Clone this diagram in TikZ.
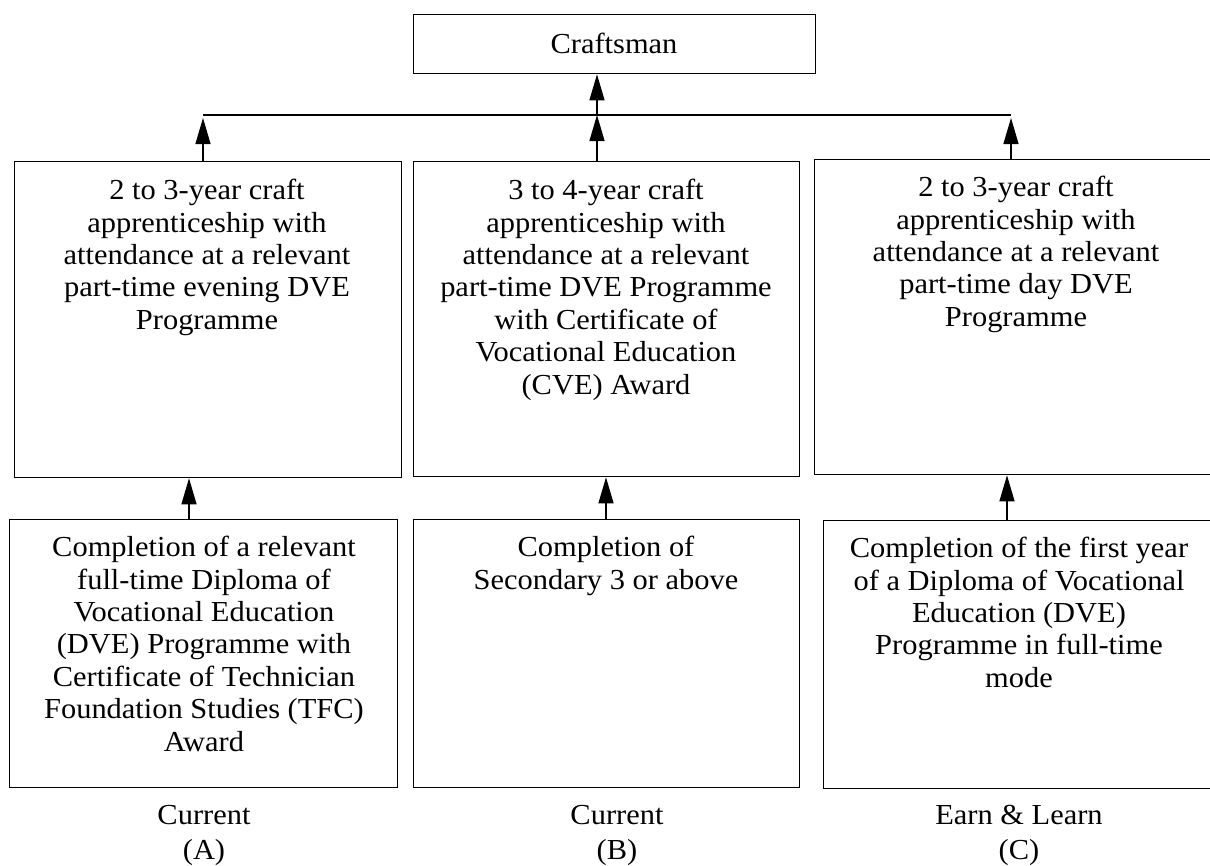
\documentclass[tikz,border=0pt]{standalone}
\usepackage{fontspec}
\setmainfont{Liberation Serif}[FakeStretch=1.05]
\usetikzlibrary{arrows.meta}
\begin{document}
\begin{tikzpicture}[x=1pt,y=-1pt,
  box/.style={draw=black, line width=1.3pt, inner sep=0pt, anchor=north west},
  txt/.style={anchor=north, inner sep=0pt, align=center,
    font=\fontsize{29}{32.4}\selectfont},
  lbl/.style={anchor=north, inner sep=0pt, align=center,
    font=\fontsize{29}{35}\selectfont},
  link/.style={line width=1.3pt, -{Triangle[length=26pt,width=15pt]}},
  bar/.style={line width=1.3pt}]
\path[clip] (0,0) rectangle (1210,865);

% top box
\node[box, minimum width=402pt, minimum height=59pt] (top) at (413,14) {};
\node[inner sep=0pt, font=\fontsize{29}{32.4}\selectfont] (toptxt) at (614,43) {Craftsman};

% upper row of boxes
\node[box, minimum width=387pt, minimum height=316pt] (a1) at (14,161) {};
\node[box, minimum width=386pt, minimum height=315pt] (b1) at (413,161) {};
\node[box, minimum width=402pt, minimum height=315pt] (c1) at (814,159) {};

\node[txt] (a1t) at (207,179) {2 to 3-year craft\\apprenticeship with\\attendance at a relevant\\part-time evening DVE\\Programme};
\node[txt] (b1t) at (606,179) {3 to 4-year craft\\apprenticeship with\\attendance at a relevant\\part-time DVE Programme\\with Certificate of\\Vocational Education\\(CVE) Award};
\node[txt] (c1t) at (1016,176) {2 to 3-year craft\\apprenticeship with\\attendance at a relevant\\part-time day DVE\\Programme};

% lower row of boxes
\node[box, minimum width=388pt, minimum height=268pt] (a2) at (9,519) {};
\node[box, minimum width=386pt, minimum height=268pt] (b2) at (413,519) {};
\node[box, minimum width=393pt, minimum height=268pt] (c2) at (823,520) {};

\node[txt] (a2t) at (204,536) {Completion of a relevant\\full-time Diploma of\\Vocational Education\\(DVE) Programme with\\Certificate of Technician\\Foundation Studies (TFC)\\Award};
\node[txt] (b2t) at (606,536) {Completion of\\Secondary 3 or above};
\node[txt] (c2t) at (1019,537) {Completion of the first year\\of a Diploma of Vocational\\Education (DVE)\\Programme in full-time\\mode};

% captions
\node[lbl] (la) at (204,805) {Current\\(A)};
\node[lbl] (lb) at (617,805) {Current\\(B)};
\node[lbl] (lc) at (1019,805) {Earn \& Learn\\(C)};

% junction points on the collecting bar
\coordinate (jl) at (203,115);
\coordinate (jm) at (597,115);
\coordinate (jr) at (1011,115);

% bar and arrows to the top box
\draw[bar] (jl) -- (jr);
\draw[link] (jm) -- (top.south -| jm);
\draw[link] (a1.north -| jl) -- ([yshift=-3pt]jl);
\draw[link] (b1.north -| jm) -- (jm);
\draw[link] (c1.north -| jr) -- ([yshift=-3pt]jr);

% arrows between the rows
\draw[link] (a2.north -| 189,0) -- (a1.south -| 189,0);
\draw[link] (b2.north -| 606,0) -- (b1.south -| 606,0);
\draw[link] (c2.north -| 1007,0) -- (c1.south -| 1007,0);
\end{tikzpicture}
\end{document}
